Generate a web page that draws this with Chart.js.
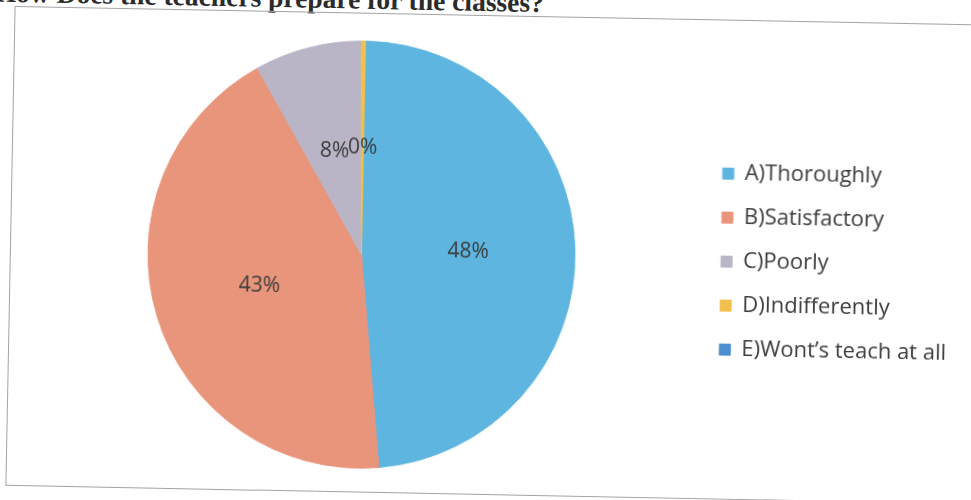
<!DOCTYPE html>
<html>
<head>
<meta charset="utf-8">
<title>Class preparation</title>
<script src="https://cdn.jsdelivr.net/npm/chart.js@4.4.0/dist/chart.umd.min.js"></script>
<style>
  html, body { margin: 0; padding: 0; background: #fff; overflow: hidden; }
  body { width: 971px; height: 500px; position: relative; }
  /* the printed sheet sits a little skewed */
  #sheet { position: absolute; left: 0; top: 0; width: 971px; height: 500px;
           transform: rotate(1.1deg); transform-origin: 485px 250px; }
  #title { position: absolute; left: -10px; top: -14px; line-height: 28px;
           font: bold 27.5px "Liberation Serif", "Times New Roman", serif; color: #2b2b2b; white-space: nowrap; }
  #frame { position: absolute; left: 10px; top: 15px; width: 975px; height: 480px;
           border: 1px solid #a3a3a3; box-sizing: border-box; }
  #frame canvas { position: absolute; left: 0; top: 0; }
</style>
</head>
<body>
<div id="sheet">
  <div id="title">How Does the teachers prepare for the classes?</div>
  <div id="frame"><canvas id="chart-prepare" width="973" height="478"></canvas></div>
</div>
<script>
var categories = ["A)Thoroughly", "B)Satisfactory", "C)Poorly", "D)Indifferently", "E)Wont\u2019s teach at all"];
var shares = [48.4, 43.2, 8.1, 0.3, 0];
var sliceColors = ["#5db5e0", "#e8957b", "#b9b5c6", "#f2c04c", "#4a8fd0"];

var labelFont = '"Open Sans", "Noto Sans", sans-serif';

// percentage text in the middle of each slice (empty slices share the spot of their neighbour)
var sliceLabels = {
    id: "sliceLabels",
    afterDatasetsDraw: function (chart) {
        var ctx = chart.ctx;
        var meta = chart.getDatasetMeta(0);
        ctx.save();
        ctx.font = "21px " + labelFont;
        ctx.fillStyle = "#3c3c3c";
        ctx.textAlign = "center";
        ctx.textBaseline = "middle";
        meta.data.forEach(function (arc, i) {
            if (shares[i] === 0) return;
            var pos = arc.tooltipPosition();
            ctx.fillText(Math.round(shares[i]) + "%", pos.x, pos.y);
        });
        ctx.restore();
    }
};

var chartPrepare = new Chart(document.getElementById("chart-prepare"), {
    type: "pie",
    data: {
        labels: categories,
        datasets: [{
            data: shares,
            backgroundColor: sliceColors,
            borderColor: sliceColors,
            borderWidth: 1
        }]
    },
    options: {
        responsive: false,
        animation: false,
        layout: { padding: { left: 13, right: 26, top: 27, bottom: 23 } },
        plugins: {
            tooltip: { enabled: false },
            legend: {
                position: "right",
                labels: {
                    boxWidth: 11,
                    boxHeight: 11,
                    padding: 22,
                    color: "#3c3c3c",
                    font: { family: labelFont, size: 22 }
                }
            }
        }
    },
    plugins: [sliceLabels]
});
</script>
</body>
</html>
